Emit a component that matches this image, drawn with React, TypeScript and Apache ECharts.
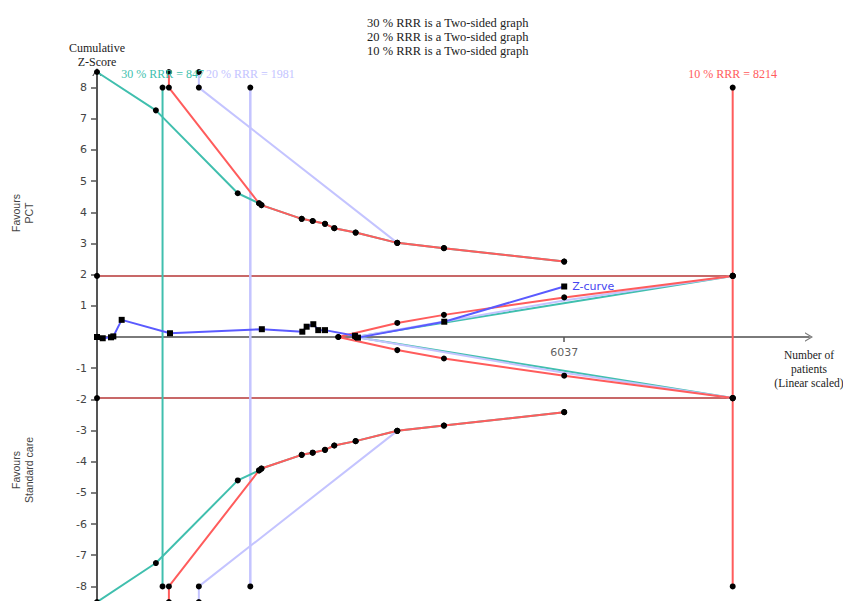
import React, { useEffect, useRef } from "react";
import * as echarts from "echarts";

// Axis ranges and ticks
const X_MAX = 9200;
const Z_MAX = 8.5;
const yTicks = [-8, -7, -6, -5, -4, -3, -2, -1, 1, 2, 3, 4, 5, 6, 7, 8];
const xTicks = [6037];

// Required information sizes per relative risk reduction
const risRRR = [30, 20, 10];
const risPatients = [847, 1981, 8214];

// Conventional significance boundary
const conventionalZ = 1.96;

// Cumulative Z-curve [patients, z]
const zCurve: number[][] = [
  [0, 0], [74, -0.04], [181, -0.01], [211, 0.02], [319, 0.55], [943, 0.12],
  [2130, 0.25], [2653, 0.17], [2709, 0.33], [2795, 0.41], [2859, 0.22],
  [2946, 0.22], [3333, 0.04], [3372, -0.02], [4487, 0.49], [6037, 1.62],
];

// Monitoring boundaries, 30 % RRR
const teal30Upper: number[][] = [
  [0, 8.5], [761, 7.27], [1819, 4.61], [2094, 4.29], [2125, 4.23], [2645, 3.79],
  [2787, 3.72], [2946, 3.63], [3066, 3.49], [3342, 3.35], [3880, 3.02],
  [4483, 2.85], [6037, 2.42],
];
const teal30Lower: number[][] = [
  [0, -8.5], [761, -7.25], [1819, -4.6], [2094, -4.28], [2125, -4.22], [2645, -3.78],
  [2787, -3.71], [2946, -3.62], [3066, -3.48], [3342, -3.34], [3880, -3.01],
  [4483, -2.84], [6037, -2.41],
];

// Monitoring boundaries, 20 % RRR
const blue20Upper: number[][] = [[1316, 8.5], [1316, 8], [3880, 3.02]];
const blue20Lower: number[][] = [[1316, -8.5], [1316, -8], [3880, -3.01]];

// Monitoring boundaries, 10 % RRR
const red10Upper: number[][] = [
  [929, 8.5], [929, 8], [2094, 4.29], [2125, 4.23], [2645, 3.79], [2787, 3.72],
  [2946, 3.63], [3066, 3.49], [3342, 3.35], [3880, 3.02], [4483, 2.85], [6037, 2.42],
];
const red10Lower: number[][] = [
  [929, -8.5], [929, -8], [2094, -4.28], [2125, -4.22], [2645, -3.78], [2787, -3.71],
  [2946, -3.62], [3066, -3.48], [3342, -3.34], [3880, -3.01], [4483, -2.84], [6037, -2.41],
];

// Futility (inner wedge) boundaries
const red10FutUpper: number[][] = [[3118, 0], [3880, 0.45], [4483, 0.71], [6037, 1.27], [8214, 1.96]];
const red10FutLower: number[][] = [[3118, 0], [3880, -0.42], [4483, -0.69], [6037, -1.24], [8214, -1.96]];
const blue20FutUpper: number[][] = [[3342, 0], [6037, 1.17], [8214, 1.96]];
const blue20FutLower: number[][] = [[3342, 0], [6037, -1.15], [8214, -1.96]];
const teal30FutUpper: number[][] = [[3342, 0], [8214, 1.96]];
const teal30FutLower: number[][] = [[3342, 0], [8214, -1.96]];

const TEAL = "#40bfae";
const LBLUE = "#c4c4ff";
const RED = "#ff5c5c";
const ZBLUE = "#5a5aff";
const HLINE = "#c86868";

const SERIF = '"Liberation Serif", "Times New Roman", serif';
const SANS = '"DejaVu Sans", Verdana, sans-serif';
const SANS2 = '"Liberation Sans", Arial, sans-serif';

const CHEVRON = "path://M0,10 L6,0 L12,10 L10.4,10 L6,2.8 L1.6,10 Z";

function lineSeries(data: any[], color: string, width = 2, extra: any = {}) {
  return {
    type: "line",
    data,
    symbol: "circle",
    symbolSize: 6,
    clip: false,
    itemStyle: { color: "#000" },
    lineStyle: { color, width },
    emphasis: { disabled: true },
    ...extra,
  };
}

// Only the outer ends of a line carry a dot
function endsOnly(data: number[][]) {
  return data.map((p, i) =>
    i === 0 || i === data.length - 1 ? { value: p } : { value: p, symbol: "none" }
  );
}

export default function App() {
  const ref = useRef<HTMLDivElement>(null);

  useEffect(() => {
    if (!ref.current) return;
    const chart = echarts.init(ref.current, null, { renderer: "svg" });
    const risColors = [TEAL, LBLUE, RED];

    const risSeries = risPatients.map((n, i) =>
      lineSeries(
        [
          {
            value: [n, 8],
            label: {
              show: true,
              position: "top",
              distance: 5,
              formatter: `${risRRR[i]} % RRR = ${n}`,
              color: risColors[i],
              fontFamily: SERIF,
              fontSize: 12,
            },
          },
          { value: [n, -8] },
        ],
        risColors[i],
        i === 1 ? 2.5 : 2
      )
    );

    chart.setOption({
      animation: false,
      title: {
        text: risRRR.map((r) => `${r} % RRR is a Two-sided graph`).join("\n"),
        left: 362,
        top: 11,
        textStyle: {
          fontFamily: SERIF,
          fontSize: 12.5,
          fontWeight: "normal",
          lineHeight: 14,
          color: "#222",
        },
      },
      grid: { left: 97, top: 72, width: 712, height: 530, outerBoundsMode: "none" },
      xAxis: {
        type: "value",
        min: 0,
        max: X_MAX,
        splitLine: { show: false },
        axisLine: {
          onZero: true,
          lineStyle: { color: "#7a7a7a", width: 2 },
          symbol: ["none", CHEVRON],
          symbolSize: [12, 8],
        },
        axisTick: { customValues: xTicks, length: 5, lineStyle: { color: "#555", width: 1.5 } },
        axisLabel: { show: false },
      },
      yAxis: {
        type: "value",
        min: -Z_MAX,
        max: Z_MAX,
        splitLine: { show: false },
        axisLine: {
          onZero: false,
          lineStyle: { color: "#555", width: 2 },
          symbol: ["none", CHEVRON],
          symbolSize: [12, 8],
        },
        axisTick: { customValues: yTicks, length: 6, lineStyle: { color: "#555", width: 1.5 } },
        axisLabel: {
          customValues: yTicks,
          color: "#444",
          fontFamily: SANS,
          fontSize: 11,
          margin: 10,
          formatter: (v: number) => String(v),
        },
      },
      graphic: [
        {
          type: "text",
          x: 97,
          y: 41,
          style: {
            text: "Cumulative\nZ-Score",
            textAlign: "center",
            textVerticalAlign: "top",
            font: `12px ${SERIF}`,
            lineHeight: 14,
            fill: "#222",
          },
        },
        {
          type: "text",
          x: 22,
          y: 213,
          rotation: Math.PI / 2,
          style: {
            text: "Favours\nPCT",
            textAlign: "center",
            textVerticalAlign: "middle",
            font: `10.5px ${SANS2}`,
            lineHeight: 13,
            fill: "#444",
          },
        },
        {
          type: "text",
          x: 22,
          y: 470,
          rotation: Math.PI / 2,
          style: {
            text: "Favours\nStandard care",
            textAlign: "center",
            textVerticalAlign: "middle",
            font: `10.5px ${SANS2}`,
            lineHeight: 13,
            fill: "#444",
          },
        },
        {
          type: "text",
          x: 809,
          y: 348,
          style: {
            text: "Number of\npatients\n(Linear scaled)",
            textAlign: "center",
            textVerticalAlign: "top",
            font: `11.5px ${SERIF}`,
            lineHeight: 14,
            fill: "#222",
          },
        },
      ],
      series: [
        lineSeries([[0, conventionalZ], [risPatients[2], conventionalZ]], HLINE, 2),
        lineSeries([[0, -conventionalZ], [risPatients[2], -conventionalZ]], HLINE, 2),
        ...risSeries,
        lineSeries(blue20Upper, LBLUE, 2),
        lineSeries(blue20Lower, LBLUE, 2),
        lineSeries(endsOnly(teal30FutUpper), TEAL, 2),
        lineSeries(endsOnly(teal30FutLower), TEAL, 2),
        lineSeries(endsOnly(blue20FutUpper), LBLUE, 2),
        lineSeries(endsOnly(blue20FutLower), LBLUE, 2),
        lineSeries(teal30Upper, TEAL, 2),
        lineSeries(teal30Lower, TEAL, 2),
        lineSeries(red10Upper, RED, 2),
        lineSeries(red10Lower, RED, 2),
        lineSeries(red10FutUpper, RED, 2),
        lineSeries(red10FutLower, RED, 2),
        lineSeries(
          zCurve.map((p, i) =>
            i === zCurve.length - 1
              ? {
                  value: p,
                  label: {
                    show: true,
                    position: "right",
                    distance: 5,
                    formatter: "Z-curve",
                    color: "#4646f0",
                    fontFamily: SANS,
                    fontSize: 11,
                  },
                }
              : { value: p }
          ),
          ZBLUE,
          2,
          { symbol: "rect", symbolSize: 6 }
        ),
        // Tick label on the zero line of the patient axis
        {
          type: "scatter",
          data: xTicks.map((t) => [t, 0]),
          symbolSize: 0,
          silent: true,
          clip: false,
          label: {
            show: true,
            position: "bottom",
            distance: 10,
            formatter: (p: any) => String(p.value[0]),
            color: "#333",
            fontFamily: SANS,
            fontSize: 11,
          },
        },
      ],
    });

    return () => chart.dispose();
  }, []);

  return (
    <div
      ref={ref}
      style={{ position: "fixed", left: 0, top: 0, width: 843, height: 601, background: "#fff" }}
    />
  );
}
